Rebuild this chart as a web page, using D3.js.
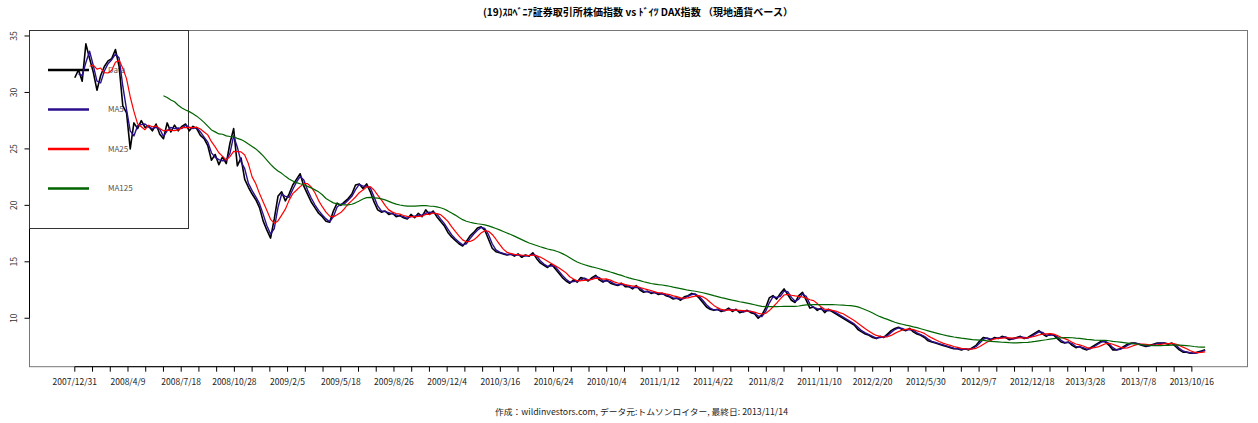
<!DOCTYPE html>
<html><head><meta charset="utf-8">
<script src="https://cdn.jsdelivr.net/npm/d3@7"></script>
<style>html,body{margin:0;padding:0;background:#fff;}svg{display:block;}</style>
</head><body>
<svg id="chart" width="1258" height="423"></svg>
<script>
// ---- data (weekly samples, every 5 trading days from 2007/12/31) ----
const stepDays = 5;
const closeValues = [
31.3,32.0,31.0,34.3,33.0,31.8,30.2,31.5,32.3,32.8,
33.0,33.8,32.3,28.8,28.2,25.0,27.3,26.8,27.5,26.9,
27.0,26.6,27.2,26.3,25.9,27.3,26.5,27.1,26.6,27.0,
27.2,26.6,27.0,26.8,26.2,25.9,25.3,24.0,24.5,23.6,
24.3,23.7,25.5,26.8,23.5,24.2,22.3,21.6,21.0,20.5,
19.8,18.6,17.8,17.1,18.8,20.8,21.2,20.4,21.0,21.8,
22.3,22.8,21.7,21.0,20.3,19.8,19.3,19.0,18.6,18.5,
19.5,20.2,20.0,20.3,20.6,21.0,21.8,21.9,21.5,21.9,
21.2,20.3,19.6,19.4,19.5,19.2,19.3,19.0,19.1,18.9,
18.8,19.2,18.9,19.3,19.0,19.6,19.2,19.5,19.0,18.6,
18.2,17.6,17.2,16.9,16.6,16.4,16.8,17.3,17.6,18.0,
18.1,17.8,17.0,16.2,15.9,15.8,15.7,15.6,15.7,15.5,
15.7,15.4,15.6,15.5,15.8,15.3,14.9,14.7,14.5,14.8,
14.4,14.0,13.6,13.3,13.1,13.4,13.2,13.6,13.5,13.3,
13.6,13.8,13.4,13.2,13.4,13.1,13.0,12.9,13.1,12.8,
12.8,12.6,12.9,12.5,12.3,12.4,12.2,12.3,12.1,12.2,
12.0,11.9,11.7,11.8,11.6,11.9,12.0,12.2,12.1,11.8,
11.4,11.0,10.8,10.7,10.8,10.6,10.7,10.9,10.6,10.8,
10.5,10.6,10.7,10.5,10.4,10.0,10.3,10.9,11.8,12.0,
11.7,12.2,12.6,12.1,11.6,11.4,12.0,12.3,11.6,10.9,
11.0,10.7,10.9,10.5,10.8,10.6,10.4,10.2,10.0,9.8,
9.6,9.4,9.0,8.8,8.6,8.5,8.3,8.2,8.4,8.3,
8.6,8.9,9.1,9.2,9.0,8.9,9.1,8.8,8.6,8.5,
8.3,8.0,7.9,7.8,7.7,7.6,7.5,7.4,7.3,7.3,
7.2,7.3,7.2,7.4,7.6,8.0,8.3,8.2,8.1,8.3,
8.2,8.4,8.3,8.1,8.2,8.3,8.4,8.2,8.3,8.5,
8.7,8.9,8.6,8.4,8.6,8.5,8.2,7.9,7.8,7.9,
7.6,7.4,7.5,7.3,7.2,7.4,7.6,7.8,8.0,7.9,
7.6,7.2,7.2,7.3,7.5,7.7,7.8,7.8,7.7,7.6,
7.5,7.6,7.7,7.8,7.8,7.8,7.7,7.8,7.5,7.2,
7.0,7.0,6.9,6.9,7.0,7.1,7.2
];
const tickLabels = ["2007/12/31","2008/4/9","2008/7/18","2008/10/28","2009/2/5","2009/5/18",
"2009/8/26","2009/12/4","2010/3/16","2010/6/24","2010/10/4","2011/1/12","2011/4/22","2011/8/2",
"2011/11/10","2012/2/20","2012/5/30","2012/9/7","2012/12/18","2013/3/28","2013/7/8","2013/10/16"];
const labelEvery = 72;   // trading days between labelled ticks
const tickEvery = 24;    // trading days between minor ticks
const yTicks = [10,15,20,25,30,35];
const seriesNames = ["Data","MA5","MA25","MA125"];
const seriesColors = ["#000000","#2b0f8f","#ff0000","#006400"];
const maWindows = [null, 2, 5, 25]; // in weekly samples (~5,25,125 trading days)
const titleText = "(19)ｽﾛﾍﾞﾆｱ証券取引所株価指数 vs ﾄﾞｲﾂ DAX指数 （現地通貨ベース）";
const footerText = "作成：wildinvestors.com, データ元:トムソンロイター, 最終日: 2013/11/14";

// ---- build ----
const svg = d3.select("#chart");
svg.append("rect").attr("width",1258).attr("height",423).attr("fill","#fff");
const L=29, R=1248, T=30, B=366.7;
const x = d3.scaleLinear().domain([-62,1588]).range([L,R]);
const y = d3.scaleLinear().domain([5.71,35.53]).range([B,T]);
const font = "'Noto Sans CJK JP','DejaVu Sans',sans-serif";

function ma(arr,w){ return arr.map((v,i)=> i<w-1 ? null : d3.mean(arr.slice(i-w+1,i+1))); }
const series = maWindows.map(w => w===null ? closeValues.slice() : ma(closeValues,w));

// frame
svg.append("rect").attr("x",L+0.5).attr("y",T+0.5).attr("width",R-L-1).attr("height",B-T-0.5)
  .attr("fill","none").attr("stroke","#777").attr("stroke-width",1);

// y axis
const yAx = svg.append("g").attr("transform",`translate(${L+0.5},0)`);
yAx.append("line").attr("y1",y(yTicks[0])).attr("y2",y(yTicks[yTicks.length-1])).attr("stroke","#000");
yTicks.forEach(t=>{
  yAx.append("line").attr("x1",-5).attr("x2",0).attr("y1",y(t)).attr("y2",y(t)).attr("stroke","#000");
  yAx.append("text").attr("transform",`translate(-15,${y(t)}) rotate(-90)`).attr("text-anchor","middle")
    .attr("dy","0.35em").attr("font-size","8.5px").attr("font-family",font).attr("fill","#333").text(t);
});

// x axis
const lastTick = labelEvery*(tickLabels.length-1);
const xTickVals = d3.range(0,lastTick+1,tickEvery);
const xAx = svg.append("g").attr("transform",`translate(0,${B})`);
xAx.append("line").attr("x1",x(0)).attr("x2",x(lastTick)).attr("stroke","#000");
xTickVals.forEach(t=>{
  xAx.append("line").attr("x1",x(t)).attr("x2",x(t)).attr("y1",0).attr("y2",5).attr("stroke","#000");
});
tickLabels.forEach((lab,k)=>{
  xAx.append("text").attr("x",x(k*labelEvery)).attr("y",18.5).attr("text-anchor","middle")
    .attr("font-size","8.5px").attr("font-family",font).attr("fill","#222").text(lab);
});

// legend (drawn beneath lines)
svg.append("rect").attr("x",L+0.5).attr("y",T+0.5).attr("width",188-L).attr("height",228-T)
  .attr("fill","none").attr("stroke","#333").attr("stroke-width",1);
const legY = [70,109.5,149,188.5];
seriesNames.forEach((n,k)=>{
  svg.append("line").attr("x1",48).attr("x2",89).attr("y1",legY[k]).attr("y2",legY[k])
    .attr("stroke",seriesColors[k]).attr("stroke-width",2.6);
  svg.append("text").attr("x",108).attr("y",legY[k]).attr("dy","0.35em").attr("font-size","8px")
    .attr("font-family",font).attr("fill","#555").text(n);
});

// lines
const widths=[1.6,1.4,1.2,1.2];
series.forEach((s,k)=>{
  const data = s.map((v,i)=>({i:i*stepDays,v})).filter(d=>d.v!==null);
  svg.append("path").datum(data).attr("fill","none").attr("stroke",seriesColors[k])
    .attr("stroke-width",widths[k]).attr("stroke-linejoin","round")
    .attr("d",d3.line().x(d=>x(d.i)).y(d=>y(d.v)));
});

// title & footer
svg.append("text").attr("x",638).attr("y",16).attr("text-anchor","middle").attr("font-size","10px")
  .attr("font-weight","bold").attr("font-family",font).attr("fill","#000")
  .attr("textLength",310).attr("lengthAdjust","spacingAndGlyphs").text(titleText);
svg.append("text").attr("x",641.5).attr("y",415).attr("text-anchor","middle").attr("font-size","8.5px")
  .attr("font-family",font).attr("fill","#222")
  .attr("textLength",293).attr("lengthAdjust","spacingAndGlyphs").text(footerText);
</script>
</body></html>
